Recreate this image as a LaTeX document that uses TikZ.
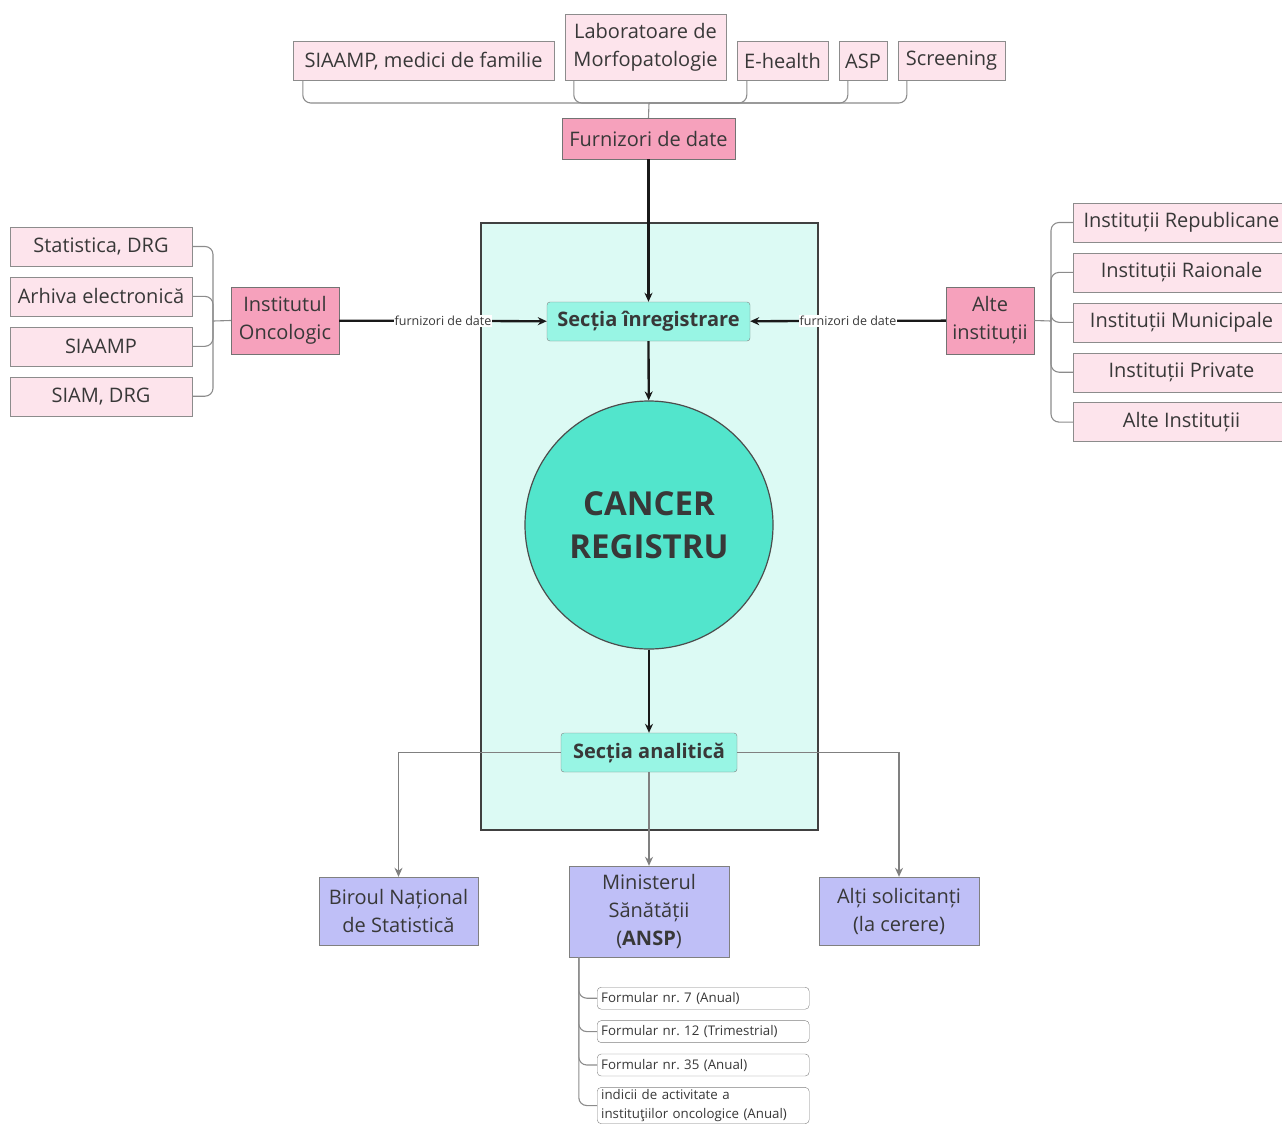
\documentclass[tikz,border=0pt]{standalone}
\usepackage{fontspec}
\setmainfont{Open Sans}
\usetikzlibrary{arrows.meta,positioning}
\definecolor{srcpale}{HTML}{FDE4EC}
\definecolor{srcpink}{HTML}{F6A1BC}
\definecolor{sectaqua}{HTML}{98F5E4}
\definecolor{regbg}{HTML}{DCFAF4}
\definecolor{regcore}{HTML}{52E5CC}
\definecolor{destlav}{HTML}{BFBFF7}
\frenchspacing

\begin{document}
\begin{tikzpicture}[x=1pt, y=-1pt, >={Stealth[length=9pt,width=8pt]}, font=\fontsize{20}{28}\selectfont, node distance=10.5pt,
  every node/.style={text=black!78},
  leaf/.style={draw=black!45, fill=srcpale, minimum height=39pt, inner sep=2pt},
  source/.style={draw=black!55, fill=srcpink, align=center, inner sep=2pt},
  sect/.style={draw=black!50, fill=sectaqua, rounded corners=3pt, minimum height=39pt, font=\fontsize{20}{24}\selectfont\bfseries},
  dest/.style={draw=black!50, fill=destlav, align=center, inner sep=2pt},
  form/.style={draw=black!50, fill=white, rounded corners=4pt, text width=204pt, inner xsep=4pt, inner ysep=2pt, minimum height=22pt, align=left, font=\fontsize{13.3}{19}\selectfont},
  brace/.style={draw=black!45, line width=1.1pt, rounded corners=8pt},
  flow/.style={->, draw=black!90, line width=2.3pt},
  outflow/.style={->, draw=black!50, line width=1.8pt},
  lbl/.style={fill=white, inner sep=1pt, font=\fontsize{12.5}{14}\selectfont}]
  \useasboundingbox (0,0) rectangle (1282,1130);

  % registry frame
  \draw[draw=black!75, line width=2pt, fill=regbg] (481,223) rectangle (818,830);

  % data providers
  \node[leaf, minimum width=261pt] (siaamp) at (423.5,61) {SIAAMP, medici de familie};
  \node[leaf, minimum width=161pt, minimum height=66pt, align=center] (morfo) at (645.5,47) {Laboratoare de\\Morfopatologie};
  \node[leaf, minimum width=91pt] (ehealth) at (782.5,61) {E-health};
  \node[leaf, minimum width=48pt] (asp) at (863,61) {ASP};
  \node[leaf, minimum width=107pt] (screen) at (951.5,61) {Screening};
  \node[source, minimum width=173pt, minimum height=41pt] (furn) at (648.5,138.5) {Furnizori de date};
  \coordinate (hubT) at (649,103);

  \node[leaf, minimum width=182pt] (stat) at (101,246.5) {Statistica, DRG};
  \node[leaf, minimum width=182pt, below=of stat] (arhiva) {Arhiva electronică};
  \node[leaf, minimum width=182pt, below=of arhiva] (siaamp2) {SIAAMP};
  \node[leaf, minimum width=182pt, below=of siaamp2] (siam) {SIAM, DRG};
  \node[source, minimum width=108pt, minimum height=67pt] (onco) at (285,320.5) {Institutul\\Oncologic};
  \coordinate (hubL) at (213,321);

  \node[leaf, minimum width=217pt] (irep) at (1181.5,222.5) {Instituții Republicane};
  \node[leaf, minimum width=217pt, below=of irep] (iraion) {Instituții Raionale};
  \node[leaf, minimum width=217pt, below=of iraion] (imun) {Instituții Municipale};
  \node[leaf, minimum width=217pt, below=of imun] (ipriv) {Instituții Private};
  \node[leaf, minimum width=217pt, below=of ipriv] (ialte) {Alte Instituții};
  \node[source, minimum width=88pt, minimum height=67pt] (alte) at (990,320.5) {Alte\\instituții};
  \coordinate (hubR) at (1051,321);

  % registry
  \node[sect, minimum width=203pt] (sinr) at (648.5,321.5) {Secția înregistrare};
  \node[circle, draw=black!70, line width=1.2pt, fill=regcore, minimum size=248pt, align=center,
        font=\fontsize{33}{43}\selectfont\bfseries] (reg) at (649,525) {CANCER\\REGISTRU};
  \node[sect, minimum width=176pt] (sanal) at (649,752.5) {Secția analitică};

  % recipients
  \node[dest, minimum width=159pt, minimum height=68pt] (birou) at (398.5,911) {Biroul Național\\de Statistică};
  \node[dest, minimum width=160pt, minimum height=91pt] (minis) at (649,911.5) {Ministerul\\Sănătății\\(\textbf{ANSP})};
  \node[dest, minimum width=160pt, minimum height=68pt] (alti) at (899,911) {Alți solicitanți\\(la cerere)};

  \node[form, anchor=north west] (f7) at (597,987) {Formular nr. 7 (Anual)};
  \node[form, below=11pt of f7] (f12) {Formular nr. 12 (Trimestrial)};
  \node[form, below=11pt of f12] (f35) {Formular nr. 35 (Anual)};
  \node[form, below=11pt of f35] (indic) {indicii de activitate a\\instituţiilor oncologice (Anual)};
  \coordinate (trunk) at ([xshift=10pt]minis.south west);

  % brackets
  \draw[brace] ([xshift=10pt]siaamp.south west) |- (hubT);
  \draw[brace] ([xshift=9pt]morfo.south west) |- (hubT);
  \draw[brace] ([xshift=10pt]ehealth.south west) |- (hubT);
  \draw[brace] ([xshift=9pt]asp.south west) |- (hubT);
  \draw[brace] ([xshift=9pt]screen.south west) |- (hubT);
  \draw[brace] (hubT) -- (furn.north);
  \foreach \n in {stat,arhiva,siaamp2,siam} \draw[brace] (\n.east) -| (hubL);
  \draw[brace] (hubL) -- (onco.west);
  \foreach \n in {irep,iraion,imun,ipriv,ialte} \draw[brace] (\n.west) -| (hubR);
  \draw[brace] (hubR) -- (alte.east);
  \foreach \n in {f7,f12,f35,indic} \draw[brace] (trunk) |- (\n.west);

  % flows
  \draw[flow] (furn) -- (sinr);
  \draw[flow] (onco) -- node[lbl] {furnizori de date} (sinr);
  \draw[flow] (alte) -- node[lbl] {furnizori de date} (sinr);
  \draw[flow] (sinr) -- (reg);
  \draw[flow] (reg) -- (sanal);
  \draw[outflow] (sanal.west) -| (birou.north);
  \draw[outflow] (sanal) -- (minis);
  \draw[outflow] (sanal.east) -| (alti.north);
\end{tikzpicture}
\end{document}
